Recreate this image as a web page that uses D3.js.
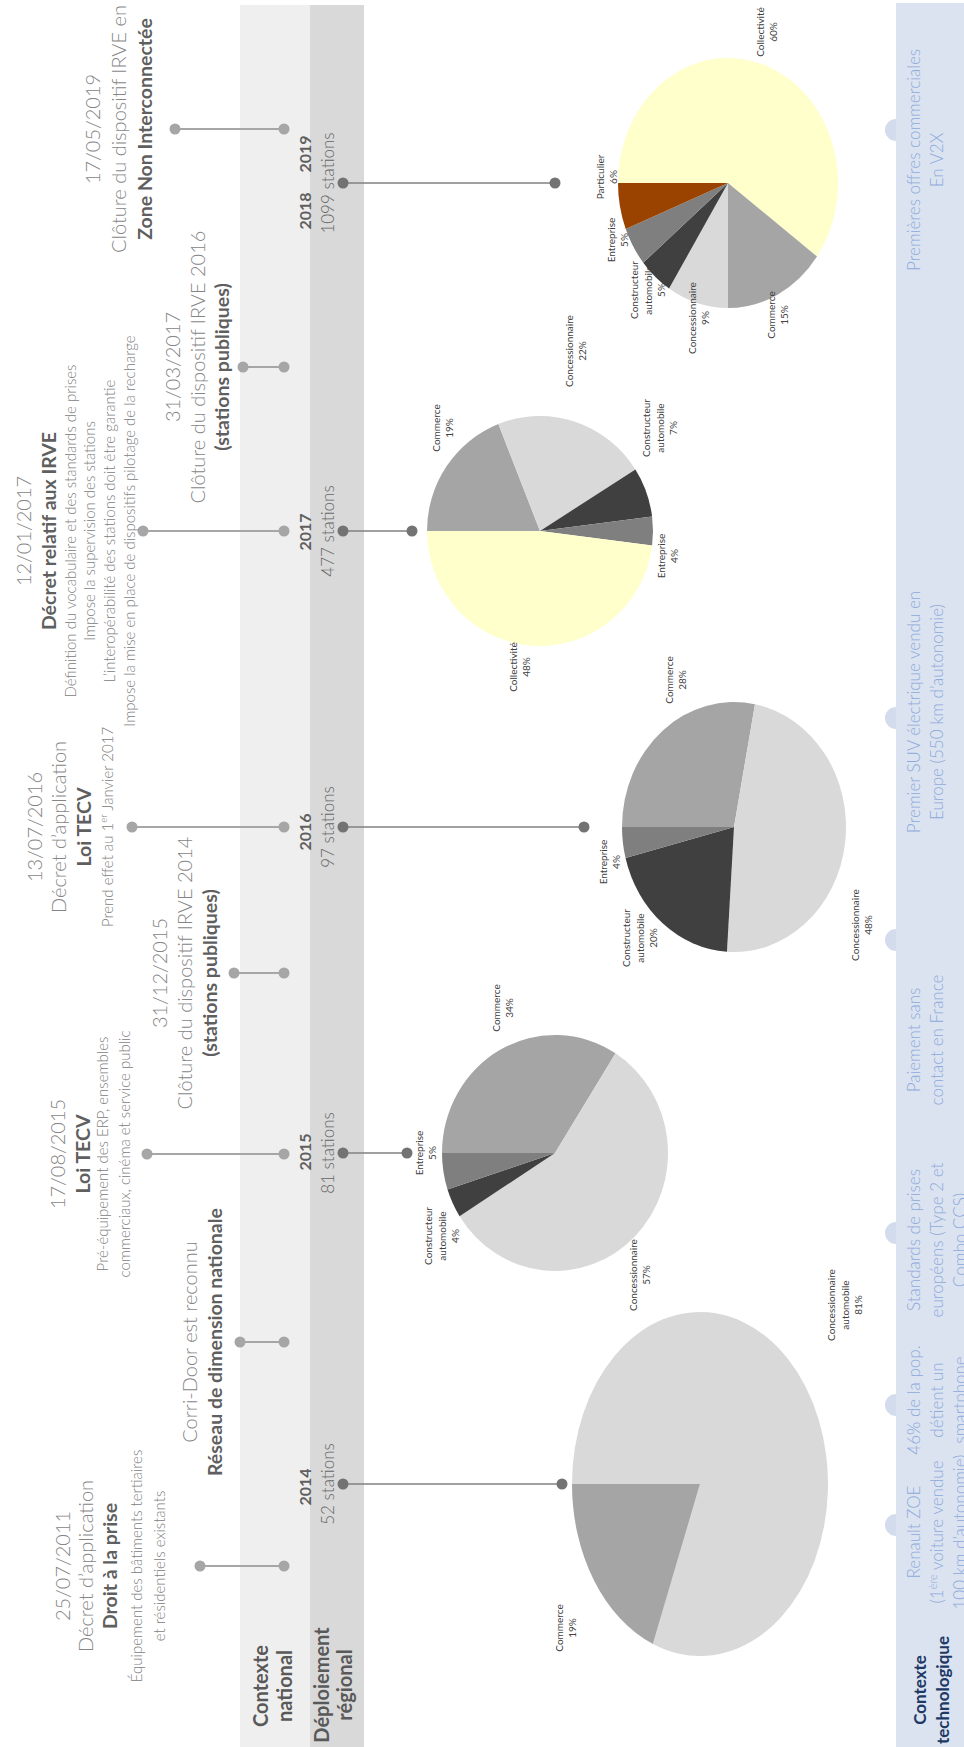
<!DOCTYPE html>
<html><head><meta charset="utf-8">
<script src="https://cdn.jsdelivr.net/npm/d3@7"></script>
<style>
body{margin:0;background:#fff;overflow:hidden}
svg{display:block}
text{font-family:Lato,"Open Sans",sans-serif}
</style>
</head><body>
<script>
// ================= DATA =================
const yearLabels = ["2014","2015","2016","2017","2018","2019"];
const stationCounts = [52,81,97,477,1099];
const pieYears = ["2014","2015","2016","2017","2019"];

const categories = ["Collectivité","Commerce","Concessionnaire","Concessionnaire automobile","Constructeur automobile","Entreprise","Particulier"];
const categoryColors = ["#ffffcc","#a5a5a5","#d9d9d9","#d9d9d9","#404040","#7f7f7f","#9a4300"];

// shares (%) in drawing order (clockwise from 12 o'clock)
const share2014 = [["Concessionnaire automobile",81],["Commerce",19]];
const share2015 = [["Commerce",34],["Concessionnaire",57],["Constructeur automobile",4],["Entreprise",5]];
const share2016 = [["Commerce",28],["Concessionnaire",48],["Constructeur automobile",20],["Entreprise",4]];
const share2017 = [["Commerce",19],["Concessionnaire",22],["Constructeur automobile",7],["Entreprise",4],["Collectivité",48]];
const share2019 = [["Collectivité",60],["Commerce",15],["Concessionnaire",9],["Constructeur automobile",5],["Entreprise",5],["Particulier",6]];
const shares = [share2014,share2015,share2016,share2017,share2019];

// national context events: [style, text]  d=date l=light b=bold s=small
const nationalEvents = [
  [["d","25/07/2011"],["l","Décret d’application"],["b","Droit à la prise"],["s","Équipement des bâtiments tertiaires"],["s","et résidentiels existants"]],
  [["l","Corri-Door est reconnu"],["b","Réseau de dimension nationale"]],
  [["d","17/08/2015"],["b","Loi TECV"],["s","Pré-équipement des ERP, ensembles"],["s","commerciaux, cinéma et service public"]],
  [["d","31/12/2015"],["l","Clôture du dispositif IRVE 2014"],["b","(stations publiques)"]],
  [["d","13/07/2016"],["l","Décret d’application"],["b","Loi TECV"],["s","Prend effet au 1^{er} Janvier 2017"]],
  [["d","12/01/2017"],["b","Décret relatif aux IRVE"],["s","Définition du vocabulaire et des standards de prises"],["s","Impose la supervision des stations"],["s","L’interopérabilité des stations doit être garantie"],["s","Impose la mise en place de dispositifs pilotage de la recharge"]],
  [["d","31/03/2017"],["l","Clôture du dispositif IRVE 2016"],["b","(stations publiques)"]],
  [["d","17/05/2019"],["l","Clôture du dispositif IRVE en"],["b","Zone Non Interconnectée"]]
];

const techEvents = [
  ["Renault ZOE","(1^{ère} voiture vendue","100 km d’autonomie)"],
  ["46% de la pop.","détient un","smartphone"],
  ["Standards de prises","européens (Type 2 et","Combo CCS)"],
  ["Paiement sans","contact en France"],
  ["Premier SUV électrique vendu en","Europe (550 km d’autonomie)"],
  ["Premières offres commerciales","En V2X"]
];

const bandLabels = [["Contexte","national"],["Déploiement","régional"],["Contexte","technologique"]];

// ================= LAYOUT (screen coordinates of the rotated page) =================
const W = 964, H = 1747;
const L = {
  nationalY:[1566,1342,1154,973,827,531,367,129],
  nationalLeftX:[200,240,147,234,132,143,243,175],
  nationalDotX:284,
  nationalBase:[[70,93,117,142,165],[197,222],[65,90,108,130],[167,192,217],[42,66,91,113],[31,56,76,95,115,135],[180,205,229],[100,126,152]],
  deployY:[1484,1153,827,531,183],
  yearY:[1487,1152,832,532,211,154],
  deployDotX:343, yearBaseX:311, stationBaseX:334,
  pieDotX:[562,407,584,412,555],
  pieCX:[700,555,734,540,728],
  pieRX:[128,113,112,113,110],
  pieRY:[172,118,125,115,125],
  techY:[1532,1400,1240,1040,712,160],
  techBumpY:[1525,1405,1233,940,718,130],
  techBase:[920,943,966],
  pieLabels:{
    "2014|Commerce":[566,1628],"2014|Concessionnaire automobile":[845,1305],
    "2015|Entreprise":[426,1153],"2015|Constructeur automobile":[442,1236],"2015|Commerce":[503,1008],"2015|Concessionnaire":[640,1275],
    "2016|Entreprise":[610,862],"2016|Constructeur automobile":[640,938],"2016|Commerce":[676,680],"2016|Concessionnaire":[862,925],
    "2017|Collectivité":[520,667],"2017|Entreprise":[668,556],"2017|Constructeur automobile":[660,428],"2017|Concessionnaire":[576,351],"2017|Commerce":[443,428],
    "2019|Collectivité":[767,32],"2019|Particulier":[607,177],"2019|Entreprise":[618,240],"2019|Constructeur automobile":[648,290],"2019|Concessionnaire":[699,318],"2019|Commerce":[778,315]
  }
};

const styles = {
  d:{size:20,weight:300,fill:"#858585"},
  l:{size:20,weight:300,fill:"#858585"},
  b:{size:19.5,weight:700,fill:"#5f5f5f"},
  s:{size:15,weight:300,fill:"#808080"}
};

// ================= DRAW =================
const svg = d3.select("body").append("svg").attr("width",W).attr("height",H);
// page is rotated: logical (u along page length, v across)
const root = svg.append("g").attr("transform",`translate(0,${H}) rotate(-90)`);
const U = d3.scaleLinear().domain([0,H]).range([H,0]);   // screen y -> logical u
const V = d3.scaleLinear().domain([0,W]).range([0,W]);   // screen x -> logical v
const color = d3.scaleOrdinal().domain(categories).range(categoryColors);

function richText(sel, str, size){
  const parts = str.split(/(\^\{[^}]*\})/).filter(p=>p.length);
  let shifted=false;
  parts.forEach(p=>{
    if(p.startsWith("^{")){
      sel.append("tspan").attr("font-size",size*0.65).attr("dy",-size*0.38).text(p.slice(2,-1));
      shifted=true;
    } else {
      const t = sel.append("tspan").text(p);
      if(shifted){t.attr("dy",size*0.38);shifted=false;}
    }
  });
}

// bands
const bandDefs = [
  {v0:240,v1:310,fill:"#efefef",top:5},
  {v0:310,v1:364,fill:"#d9d9d9",top:5},
  {v0:896,v1:W,fill:"#dbe3f0",top:3}
];
root.selectAll("circle.bump").data(L.techBumpY).join("circle")
  .attr("class","bump").attr("cx",d=>U(d)).attr("cy",V(896)).attr("r",11).attr("fill","#d3dcec");
root.selectAll("rect.band").data(bandDefs).join("rect").attr("class","band")
  .attr("x",0).attr("width",d=>U(d.top)).attr("y",d=>V(d.v0)).attr("height",d=>V(d.v1)-V(d.v0)).attr("fill",d=>d.fill);

// band labels
const bandLabelPos = [{u:U(1686),v:[268,292],font:"Lato",size:20,fill:"#595959"},
                      {u:U(1685),v:[329,352],font:"Lato",size:20,fill:"#595959"},
                      {u:U(1690),v:[926,949],font:"Open Sans",size:17,fill:"#203864"}];
bandLabels.forEach((lines,i)=>{
  const p = bandLabelPos[i];
  lines.forEach((t,j)=>{
    root.append("text").attr("x",p.u).attr("y",V(p.v[j])).attr("text-anchor","middle")
      .attr("font-family",p.font).attr("font-weight",700).attr("font-size",p.size).attr("fill",p.fill).text(t);
  });
});

// national events
nationalEvents.forEach((lines,i)=>{
  const u = U(L.nationalY[i]);
  root.append("line").attr("x1",u).attr("x2",u).attr("y1",V(L.nationalLeftX[i])).attr("y2",V(L.nationalDotX))
    .attr("stroke","#a6a6a6").attr("stroke-width",2);
  [L.nationalLeftX[i],L.nationalDotX].forEach(x=>root.append("circle").attr("cx",u).attr("cy",V(x)).attr("r",5.5).attr("fill","#a6a6a6"));
  lines.forEach(([st,txt],j)=>{
    const s = styles[st];
    const t = root.append("text").attr("x",u).attr("y",V(L.nationalBase[i][j])).attr("text-anchor","middle")
      .attr("font-size",s.size).attr("font-weight",s.weight).attr("fill",s.fill);
    richText(t,txt,s.size);
  });
});

// deployment: year labels, station counts, connectors
yearLabels.forEach((y,i)=>{
  root.append("text").attr("x",U(L.yearY[i])).attr("y",V(L.yearBaseX)).attr("text-anchor","middle")
    .attr("font-size",16).attr("font-weight",700).attr("fill","#5f5f5f").text(y);
});
stationCounts.forEach((n,i)=>{
  const u = U(L.deployY[i]);
  root.append("text").attr("x",u).attr("y",V(L.stationBaseX)).attr("text-anchor","middle")
    .attr("font-size",17).attr("font-weight",300).attr("fill","#666").text(`${n} stations`);
  root.append("line").attr("x1",u).attr("x2",u).attr("y1",V(L.deployDotX)).attr("y2",V(L.pieDotX[i]))
    .attr("stroke","#808080").attr("stroke-width",1.6);
  root.append("circle").attr("cx",u).attr("cy",V(L.deployDotX)).attr("r",5.5).attr("fill","#737373");
  root.append("circle").attr("cx",u).attr("cy",V(L.pieDotX[i])).attr("r",5.5).attr("fill","#737373");
});

// pies (stretched along the page length, like the pasted charts)
const pieGen = d3.pie().sort(null).value(d=>d[1]);
shares.forEach((data,i)=>{
  const rx = L.pieRX[i], k = L.pieRY[i]/rx;
  const arc = d3.arc().innerRadius(0).outerRadius(rx);
  const gp = root.append("g").attr("transform",`translate(${U(L.deployY[i])},${V(L.pieCX[i])}) scale(${k},1)`);
  gp.selectAll("path").data(pieGen(data)).join("path").attr("d",arc).attr("fill",d=>color(d.data[0]));
  data.forEach(([cat,val])=>{
    const pos = L.pieLabels[pieYears[i]+"|"+cat];
    if(!pos) return;
    const lines = cat.split(" ").concat([val+"%"]);
    const lh = 13.5, n = lines.length;
    lines.forEach((t,j)=>{
      root.append("text").attr("x",U(pos[1])).attr("y",V(pos[0]) + (j-(n-1)/2)*lh + 3.5)
        .attr("text-anchor","middle").attr("font-size",10).attr("fill","#404040").text(t);
    });
  });
});

// tech events
techEvents.forEach((lines,i)=>{
  lines.forEach((txt,j)=>{
    const t = root.append("text").attr("x",U(L.techY[i])).attr("y",V(L.techBase[j])).attr("text-anchor","middle")
      .attr("font-size",17).attr("font-weight",300).attr("fill","#8eaadb");
    richText(t,txt,17);
  });
});
</script>
</body></html>
